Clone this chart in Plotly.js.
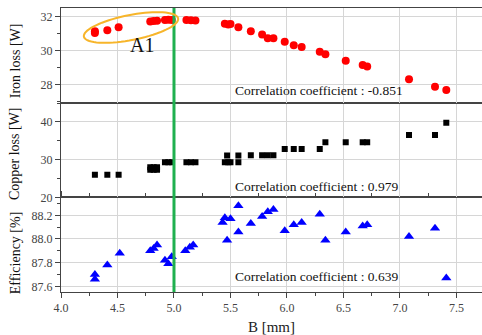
<!DOCTYPE html>
<html>
<head>
<meta charset="utf-8">
<script src="https://cdn.plot.ly/plotly-3.0.1.min.js"></script>
<style>html,body{margin:0;padding:0;background:#fff;}#chart{width:482px;height:335px;}</style>
</head>
<body>
<div id="chart"></div>
<script>
// ---- data ----
var ironX = [4.30,4.30,4.41,4.51,4.79,4.82,4.85,4.92,4.95,4.98,5.11,5.15,5.19,5.45,5.48,5.50,5.57,5.68,5.78,5.83,5.88,5.98,6.06,6.13,6.29,6.34,6.52,6.67,6.71,7.08,7.31,7.41];
var ironY = [31.15,31.05,31.22,31.39,31.74,31.76,31.78,31.82,31.84,31.82,31.82,31.80,31.79,31.60,31.55,31.58,31.39,31.16,30.96,30.75,30.75,30.53,30.33,30.22,29.94,29.80,29.41,29.16,29.08,28.33,27.88,27.69];

var copperX = [4.30,4.41,4.51,4.79,4.82,4.85,4.79,4.82,4.85,4.92,4.95,4.98,5.11,5.15,5.19,5.45,5.48,5.50,5.47,5.57,5.57,5.68,5.78,5.83,5.88,5.98,6.06,6.13,6.29,6.34,6.52,6.67,6.71,7.08,7.31,7.41];
var copperY = [26.0,26.0,26.0,27.3,27.3,27.3,28.0,28.0,28.0,29.3,29.3,29.3,29.3,29.3,29.3,29.3,29.3,29.3,31.1,31.1,29.3,31.15,31.15,31.15,31.15,32.8,32.8,32.8,32.8,34.6,34.6,34.6,34.6,36.5,36.5,39.8];

var effX = [4.30,4.30,4.41,4.52,4.79,4.82,4.85,4.92,4.95,4.98,5.10,5.14,5.17,5.43,5.45,5.47,5.50,5.57,5.57,5.68,5.78,5.83,5.88,5.98,6.06,6.13,6.29,6.34,6.52,6.67,6.71,7.08,7.31,7.41];
var effY = [87.70,87.66,87.78,87.88,87.90,87.92,87.95,87.82,87.79,87.85,87.90,87.93,87.95,88.14,88.18,87.99,88.17,88.28,88.06,88.13,88.19,88.23,88.25,88.07,88.12,88.14,88.21,87.99,88.06,88.11,88.12,88.02,88.09,87.67];

var corrLabels = ["Correlation coefficient : -0.851", "Correlation coefficient : 0.979", "Correlation coefficient : 0.639"];
var yTitles = ["Iron loss [W]", "Copper loss [W]", "Efficiency [%]"];
var xTitle = "B [mm]";
var markLabel = "A1";
var splitB = 5.0;

// ---- layout constants ----
var W = 482, H = 335;
var mL = 61, mR = 0, mT = 8, mB = 43;
var xRange = [4.0, 7.726];
var yTopRange = [26.94, 32.53];
var yMidRange = [20.0, 45.1];
var yBotRange = [87.552, 88.352];
var serif = "Liberation Serif, Times New Roman, serif";
var axisColor = "#444";
var gridColor = "#d6d6d6";

var plotW = W - mL - mR, plotH = H - mT - mB;
var panelH = plotH / 3;

// ellipse around A1 points (pixel geometry -> data of top panel)
function pxToTop(px, py) {
  var x = xRange[0] + (px - mL) * (xRange[1] - xRange[0]) / plotW;
  var y = yTopRange[1] - (py - mT) * (yTopRange[1] - yTopRange[0]) / panelH;
  return [x, y];
}
var ec = [131, 27.5], ea = 48, eb = 12.5, eang = -11 * Math.PI / 180;
var pathParts = [];
for (var i = 0; i <= 72; i++) {
  var t = i / 72 * 2 * Math.PI;
  var ux = ea * Math.cos(t), uy = eb * Math.sin(t);
  var px = ec[0] + ux * Math.cos(eang) - uy * Math.sin(eang);
  var py = ec[1] + ux * Math.sin(eang) + uy * Math.cos(eang);
  var d = pxToTop(px, py);
  pathParts.push((i === 0 ? "M" : "L") + d[0].toFixed(4) + "," + d[1].toFixed(4));
}
var ellipsePath = pathParts.join(" ") + " Z";

var traces = [
  {x: ironX, y: ironY, xaxis: "x", yaxis: "y3", type: "scatter", mode: "markers",
   marker: {symbol: "circle", size: 8, color: "#ff0000"}, hoverinfo: "x+y"},
  {x: copperX, y: copperY, xaxis: "x", yaxis: "y2", type: "scatter", mode: "markers",
   marker: {symbol: "square", size: 6, color: "#000000"}, hoverinfo: "x+y"},
  {x: effX, y: effY, xaxis: "x", yaxis: "y", type: "scatter", mode: "markers",
   marker: {symbol: "triangle-up", size: 9, color: "#0000ff"}, hoverinfo: "x+y"}
];

function yAx(domain, range, dtick, tick0, minorDtick, fmt) {
  return {
    domain: domain, range: range, anchor: "x",
    dtick: dtick, tick0: tick0, tickformat: fmt,
    ticks: "outside", ticklen: 5, tickcolor: axisColor, tickwidth: 1,
    minor: {dtick: minorDtick, ticks: "outside", ticklen: 3, tickcolor: axisColor, showgrid: false},
    showgrid: true, gridcolor: gridColor, gridwidth: 1,
    showline: true, linecolor: axisColor, linewidth: 1,
    zeroline: false,
    tickfont: {family: serif, size: 12, color: "#444"}
  };
}

var layout = {
  width: W, height: H,
  margin: {l: mL, r: mR, t: mT, b: mB, pad: 0},
  paper_bgcolor: "#fff", plot_bgcolor: "#fff",
  showlegend: false,
  font: {family: serif, color: "#222"},
  xaxis: {
    domain: [0, 1], range: xRange, anchor: "y",
    dtick: 0.5, tick0: 4, tickformat: ".1f",
    ticks: "outside", ticklen: 5, tickcolor: axisColor,
    minor: {dtick: 0.25, ticks: "outside", ticklen: 3, tickcolor: axisColor, showgrid: false},
    showgrid: true, gridcolor: gridColor, gridwidth: 1,
    showline: true, linecolor: axisColor, linewidth: 1, mirror: "all",
    zeroline: false,
    tickfont: {family: serif, size: 12, color: "#444"},
    title: {text: xTitle, font: {family: serif, size: 15, color: "#222"}, standoff: 9}
  },
  yaxis: yAx([0, 1/3], yBotRange, 0.2, 87.6, 0.1, ".1f"),
  yaxis2: yAx([1/3, 2/3], yMidRange, 10, 20, 5, "d"),
  yaxis3: yAx([2/3, 1], yTopRange, 2, 28, 1, "d"),
  shapes: [
    {type: "line", xref: "x", yref: "paper", x0: splitB, x1: splitB, y0: 0, y1: 1,
     line: {color: "#1fb04f", width: 3}, layer: "above"},
    {type: "path", xref: "x", yref: "y3", path: ellipsePath,
     line: {color: "#f7b52a", width: 2}, fillcolor: "rgba(0,0,0,0)", layer: "above"}
  ],
  annotations: [
    {text: corrLabels[0], xref: "x", yref: "y3", x: 5.52, y: 27.65, xanchor: "left", yanchor: "middle",
     showarrow: false, font: {family: serif, size: 13.5, color: "#111"}},
    {text: corrLabels[1], xref: "x", yref: "y2", x: 5.52, y: 22.84, xanchor: "left", yanchor: "middle",
     showarrow: false, font: {family: serif, size: 13.5, color: "#111"}},
    {text: corrLabels[2], xref: "x", yref: "y", x: 5.52, y: 87.68, xanchor: "left", yanchor: "middle",
     showarrow: false, font: {family: serif, size: 13.5, color: "#111"}},
    {text: markLabel, xref: "x", yref: "y3", x: 4.717, y: 30.35, xanchor: "center", yanchor: "middle",
     showarrow: false, font: {family: serif, size: 20, color: "#111"}},
    {text: yTitles[0], xref: "paper", yref: "paper", x: -0.109, y: 0.813, textangle: -90,
     xanchor: "center", yanchor: "middle", showarrow: false, font: {family: serif, size: 14, color: "#111"}},
    {text: yTitles[1], xref: "paper", yref: "paper", x: -0.109, y: 0.486, textangle: -90,
     xanchor: "center", yanchor: "middle", showarrow: false, font: {family: serif, size: 14, color: "#111"}},
    {text: yTitles[2], xref: "paper", yref: "paper", x: -0.109, y: 0.137, textangle: -90,
     xanchor: "center", yanchor: "middle", showarrow: false, font: {family: serif, size: 14, color: "#111"}}
  ]
};

Plotly.newPlot("chart", traces, layout, {displayModeBar: false, staticPlot: true});
</script>
</body>
</html>
